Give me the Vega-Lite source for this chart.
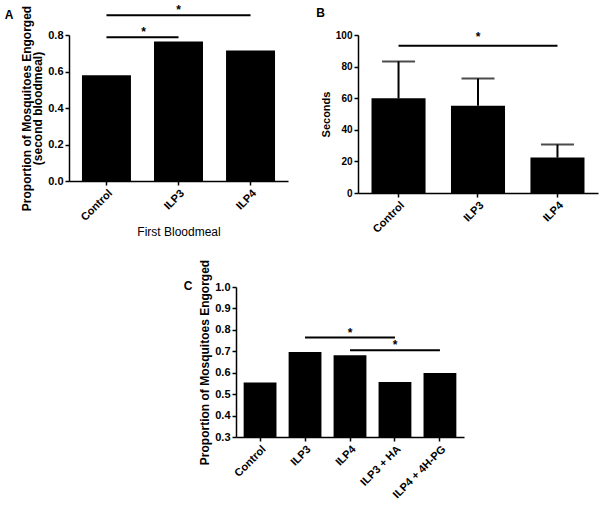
{
  "$schema": "https://vega.github.io/schema/vega-lite/v6.json",
  "background": "white",
  "padding": {"left": 4, "top": 4, "right": 2, "bottom": 2},
  "config": {
    "font": "Liberation Sans",
    "view": {"stroke": null},
    "axis": {
      "grid": false,
      "domainColor": "black",
      "tickColor": "black",
      "labelColor": "black",
      "titleColor": "black",
      "domainWidth": 1.5,
      "tickWidth": 1.5,
      "tickSize": 4,
      "labelFont": "Liberation Sans",
      "labelFontWeight": "bold",
      "labelFontSize": 11,
      "labelPadding": 2,
      "labelFlush": false,
      "labelOverlap": false,
      "titleFont": "Liberation Sans",
      "titleFontSize": 12,
      "titleFontWeight": "bold",
      "titlePadding": 4,
      "titleLineHeight": 11
    },
    "axisX": {"labelAngle": -45},
    "title": {"font": "Liberation Sans", "fontSize": 12, "fontWeight": "bold", "anchor": "start", "color": "black", "frame": "bounds"},
    "text": {"font": "Liberation Sans", "fontSize": 12, "fontWeight": "bold"}
  },
  "spacing": 21,
  "vconcat": [
    {
      "spacing": 28,
      "hconcat": [
        {
          "width": 219,
          "height": 146,
          "title": {"text": "A", "dx": -16, "dy": 22},
          "layer": [
            {
              "data": {"values": [
                {"group": "Control", "value": 0.58},
                {"group": "ILP3", "value": 0.765},
                {"group": "ILP4", "value": 0.715}
              ]},
              "mark": {"type": "bar", "color": "black"},
              "encoding": {
                "x": {"field": "group", "type": "nominal",
                  "scale": {"domain": ["Control", "ILP3", "ILP4"], "paddingInner": 0.32, "paddingOuter": 0.18},
                  "axis": {"title": "First Bloodmeal", "titleFontWeight": "normal", "titleFontSize": 12, "titlePadding": 4}},
                "y": {"field": "value", "type": "quantitative",
                  "scale": {"domain": [0, 0.8]},
                  "axis": {"values": [0, 0.2, 0.4, 0.6, 0.8], "tickCount": 10, "format": ".1f", "titlePadding": 3, "title": ["Proportion of Mosquitoes Engorged", "(second bloodmeal)"]}}
              }
            },
            {
              "data": {"values": [
                {"from": "Control", "to": "ILP3", "p": 0.787},
                {"from": "Control", "to": "ILP4", "p": 0.908}
              ]},
              "mark": {"type": "rule", "strokeWidth": 2, "color": "black"},
              "encoding": {
                "x": {"field": "from", "type": "nominal", "bandPosition": 0.5},
                "x2": {"field": "to", "bandPosition": 0.5},
                "y": {"field": "p", "type": "quantitative"}
              }
            },
            {
              "data": {"values": [{"at": "ILP3", "p": 0.908, "label": "*"}]},
              "mark": {"type": "text", "dy": -1, "baseline": "alphabetic"},
              "encoding": {
                "x": {"field": "at", "type": "nominal"},
                "y": {"field": "p", "type": "quantitative"},
                "text": {"field": "label"}
              }
            },
            {
              "data": {"values": [{"at": "Control", "p": 0.787, "label": "*"}]},
              "mark": {"type": "text", "dy": -1, "dx": 37, "baseline": "alphabetic"},
              "encoding": {
                "x": {"field": "at", "type": "nominal"},
                "y": {"field": "p", "type": "quantitative"},
                "text": {"field": "label"}
              }
            }
          ]
        },
        {
          "width": 240,
          "height": 158,
          "title": {"text": "B", "dx": -4, "dy": -6},
          "data": {"values": [
            {"group": "Control", "mean": 59.9, "upper": 83.3},
            {"group": "ILP3", "mean": 55.2, "upper": 72.5},
            {"group": "ILP4", "mean": 22.4, "upper": 30.7}
          ]},
          "layer": [
            {
              "mark": {"type": "bar", "color": "black"},
              "encoding": {
                "x": {"field": "group", "type": "nominal",
                  "scale": {"domain": ["Control", "ILP3", "ILP4"], "paddingInner": 0.32, "paddingOuter": 0.17},
                  "axis": {"title": null}},
                "y": {"field": "mean", "type": "quantitative",
                  "scale": {"domain": [0, 100]},
                  "axis": {"values": [0, 20, 40, 60, 80, 100], "tickCount": 10, "title": "Seconds", "titleFontSize": 11, "labelFontSize": 10}}
              }
            },
            {
              "mark": {"type": "rule", "strokeWidth": 2, "color": "black"},
              "encoding": {
                "x": {"field": "group", "type": "nominal"},
                "y": {"field": "mean", "type": "quantitative"},
                "y2": {"field": "upper"}
              }
            },
            {
              "mark": {"type": "tick", "color": "black", "thickness": 2, "size": 33},
              "encoding": {
                "x": {"field": "group", "type": "nominal"},
                "y": {"field": "upper", "type": "quantitative"}
              }
            },
            {
              "data": {"values": [{"from": "Control", "to": "ILP4", "p": 93.2}]},
              "mark": {"type": "rule", "strokeWidth": 2, "color": "black"},
              "encoding": {
                "x": {"field": "from", "type": "nominal", "bandPosition": 0.5},
                "x2": {"field": "to", "bandPosition": 0.5},
                "y": {"field": "p", "type": "quantitative"}
              }
            },
            {
              "data": {"values": [{"at": "ILP3", "p": 93.2, "label": "*"}]},
              "mark": {"type": "text", "dy": -5, "baseline": "alphabetic"},
              "encoding": {
                "x": {"field": "at", "type": "nominal"},
                "y": {"field": "p", "type": "quantitative"},
                "text": {"field": "label"}
              }
            }
          ]
        }
      ]
    },
    {
      "spacing": 0,
      "hconcat": [
        {
          "width": 114,
          "height": 150,
          "data": {"values": [{}]},
          "mark": {"type": "point", "opacity": 0},
          "encoding": {}
        },
        {
          "width": 228,
          "height": 150,
          "title": {"text": "C", "dx": -15, "dy": 38},
          "layer": [
            {
              "data": {"values": [
                {"group": "Control", "value": 0.554},
                {"group": "ILP3", "value": 0.697},
                {"group": "ILP4", "value": 0.681},
                {"group": "ILP3 + HA", "value": 0.557},
                {"group": "ILP4 + 4H-PG", "value": 0.599}
              ]},
              "mark": {"type": "bar", "color": "black"},
              "encoding": {
                "x": {"field": "group", "type": "nominal",
                  "scale": {"domain": ["Control", "ILP3", "ILP4", "ILP3 + HA", "ILP4 + 4H-PG"], "paddingInner": 0.27, "paddingOuter": 0.17},
                  "axis": {"title": null}},
                "y": {"field": "value", "type": "quantitative",
                  "scale": {"domain": [0.3, 1.0]},
                  "axis": {"values": [0.3, 0.4, 0.5, 0.6, 0.7, 0.8, 0.9, 1.0], "tickCount": 10, "format": ".1f", "titlePadding": 3, "title": "Proportion of Mosquitoes Engorged"}},
                "y2": {"datum": 0.3}
              }
            },
            {
              "data": {"values": [
                {"from": "ILP3", "to": "ILP3 + HA", "p": 0.764},
                {"from": "ILP4", "to": "ILP4 + 4H-PG", "p": 0.705}
              ]},
              "mark": {"type": "rule", "strokeWidth": 2, "color": "black"},
              "encoding": {
                "x": {"field": "from", "type": "nominal", "bandPosition": 0.5},
                "x2": {"field": "to", "bandPosition": 0.5},
                "y": {"field": "p", "type": "quantitative"}
              }
            },
            {
              "data": {"values": [
                {"at": "ILP4", "p": 0.764, "label": "*"},
                {"at": "ILP3 + HA", "p": 0.705, "label": "*"}
              ]},
              "mark": {"type": "text", "dy": -1, "baseline": "alphabetic"},
              "encoding": {
                "x": {"field": "at", "type": "nominal"},
                "y": {"field": "p", "type": "quantitative"},
                "text": {"field": "label"}
              }
            }
          ]
        }
      ]
    }
  ]
}
